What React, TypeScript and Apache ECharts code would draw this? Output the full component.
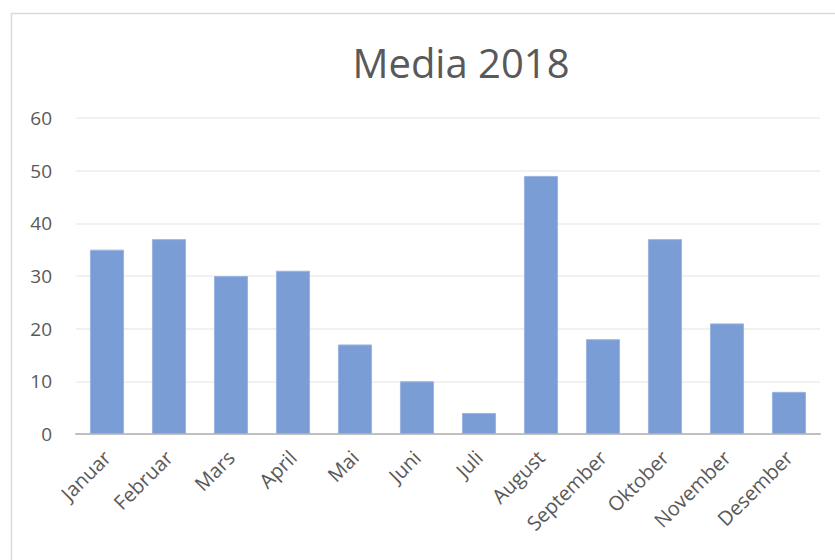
import React, { useEffect, useRef } from "react";
import * as echarts from "echarts";

const months = ["Januar", "Februar", "Mars", "April", "Mai", "Juni", "Juli", "August", "September", "Oktober", "November", "Desember"];
const values = [35, 37, 30, 31, 17, 10, 4, 49, 18, 37, 21, 8];
const title = "Media 2018";

export default function App() {
  const ref = useRef<HTMLDivElement>(null);
  useEffect(() => {
    const chart = echarts.init(ref.current!, null, { renderer: "svg" });
    chart.setOption({
      animation: false,
      backgroundColor: "#ffffff",
      title: {
        text: title,
        left: 456,
        textAlign: "center",
        top: 37,
        textStyle: { fontFamily: "Open Sans", fontSize: 40, fontWeight: "normal", color: "#595959" },
      },
      graphic: [
        {
          type: "rect",
          shape: { x: 11.5, y: 13.5, width: 900, height: 700 },
          style: { fill: "none", stroke: "#d9d9d9", lineWidth: 1.5 },
          silent: true,
        },
      ],
      grid: { left: 76, right: 15, top: 118, bottom: 126 },
      xAxis: {
        type: "category",
        data: months,
        axisLine: { lineStyle: { color: "#bfbfbf", width: 2 } },
        axisTick: { show: false },
        axisLabel: {
          rotate: 45,
          interval: 0,
          margin: 20,
          fontFamily: "Open Sans",
          fontSize: 20,
          color: "#595959",
        },
      },
      yAxis: {
        type: "value",
        min: 0,
        max: 60,
        interval: 10,
        axisLine: { show: false },
        axisTick: { show: false },
        splitLine: { lineStyle: { color: "#ededed", width: 1.5 } },
        axisLabel: { fontFamily: "Open Sans", fontSize: 19, color: "#595959", margin: 24 },
      },
      series: [
        {
          type: "bar",
          data: values,
          barWidth: "55%",
          itemStyle: { color: "#7b9dd6", borderColor: "#9ab4e2", borderWidth: 1 },
        },
      ],
    });
    return () => chart.dispose();
  }, []);
  return <div ref={ref} style={{ width: 835, height: 560, position: "absolute", left: 0, top: 0 }} />;
}
